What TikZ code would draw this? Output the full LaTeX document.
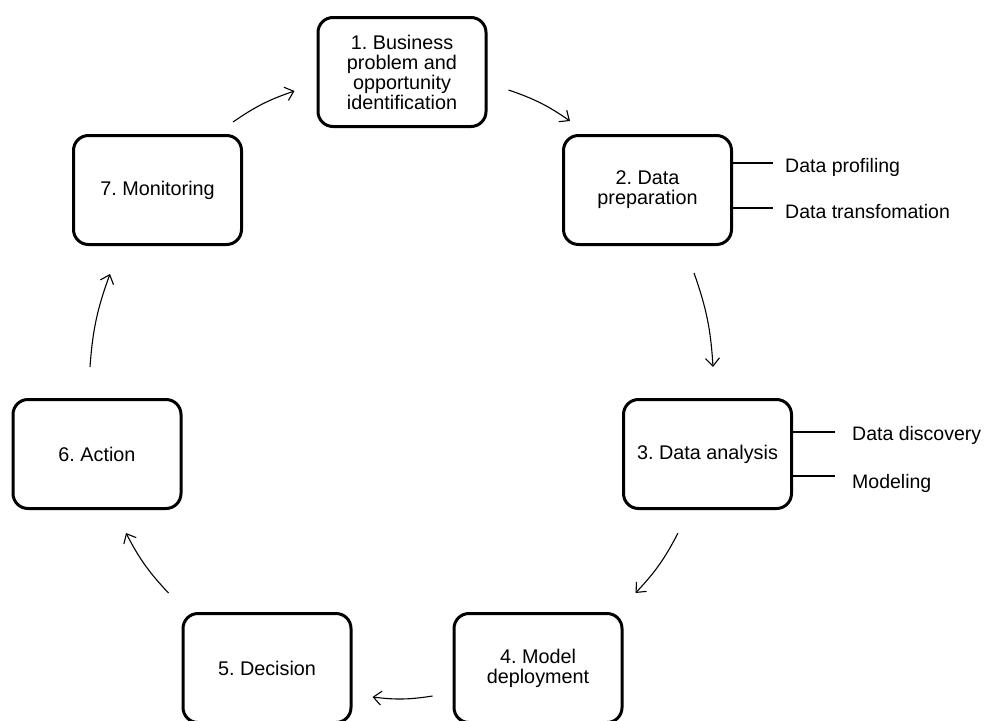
\documentclass[tikz,border=0pt]{standalone}
\usepackage{fontspec}
\setmainfont{Liberation Sans}
\frenchspacing
\usepackage{tikz}
\usetikzlibrary{arrows.meta}
\tikzset{
    stage/.style={
           rectangle, rounded corners=15pt,
           draw=black, line width=3pt,
           minimum width=168pt, minimum height=109pt,
           align=center,
           font=\fontsize{19.8}{20}\selectfont,
           },
}
\tikzset{
    sub/.style={
           anchor=base west,
           inner sep=0pt,
           font=\fontsize{19.5}{20}\selectfont,
           },
}
\tikzset{
    flow/.style={
           line width=1.1pt,
           -{Straight Barb[length=8pt,width=14pt]},
           bend left=8,
           },
}
\tikzset{
    tick/.style={
           line width=1.1pt,
           },
}

\begin{document}
\begin{tikzpicture}[x=1pt,y=-1pt]
\useasboundingbox (0,0) rectangle (984,720);
% the seven stages
\node[stage](n1) at (402,72){1. Business\\problem and\\opportunity\\identification};
\node[stage](n2) at (647.5,190){2. Data\\preparation};
\node[stage](n3) at (707.5,454){3. Data analysis};
\node[stage](n4) at (538,668){4. Model\\deployment};
\node[stage](n5) at (267,668){5. Decision};
\node[stage](n6) at (97,454){6. Action};
\node[stage](n7) at (157.5,190){7. Monitoring};
% cycle
\draw[flow] ([shift={(-10,-12)}]n7.north east) to ([shift={(-22,19)}]n1.west);
\draw[flow] ([shift={(21,18)}]n1.east) to ([shift={(8,-13)}]n2.north west);
\draw[flow] ([shift={(46.5,27)}]n2.south) to ([shift={(5.5,-31)}]n3.north);
\draw[flow] ([shift={(-29.5,23)}]n3.south) to ([shift={(12,-19)}]n4.north east);
\draw[flow] ([shift={(-20,28)}]n4.west) to ([shift={(20,29)}]n5.east);
\draw[flow] ([shift={(-13,-19)}]n5.north west) to ([shift={(29,23)}]n6.south);
\draw[flow] ([shift={(-7,-31)}]n6.north) to ([shift={(-47.5,28)}]n7.south);
% sub-steps
\coordinate (p1) at (773,163);
\coordinate (p2) at (773,208);
\coordinate (p3) at (835,432);
\coordinate (p4) at (835,476);
\draw[tick] (n2.east |- p1) -- (p1);
\draw[tick] (n2.east |- p2) -- (p2);
\draw[tick] (n3.east |- p3) -- (p3);
\draw[tick] (n3.east |- p4) -- (p4);
\node[sub](s1) at (785,172){Data profiling};
\node[sub](s2) at (785,218){Data transfomation};
\node[sub](s3) at (852,440){Data discovery};
\node[sub](s4) at (852,488){Modeling};
\end{tikzpicture}
\end{document}
